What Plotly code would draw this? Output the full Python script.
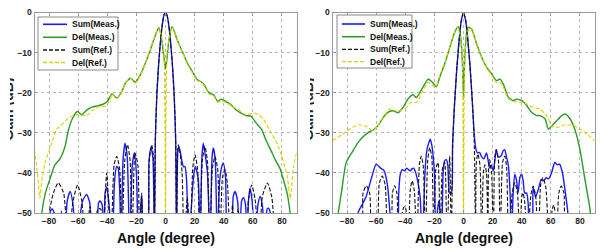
import plotly.graph_objects as go

# ---------------- data ----------------
# Left panel
left_sum_meas_angle = [-90, -81, -79.5, -78, -76.5, -74, -71.5, -69.5, -67.5, -65.5, -63.5, -61.5, -57, -54.2, -52, -50.5,
                       -48, -46, -45, -43.5, -42, -41.5, -40.4, -39, -36.5, -35, -33.5, -32.5, -31.5, -30.5,
                       -29.2, -27.8, -26.3, -24.6, -22.8, -21.4, -20, -18.5, -16.4, -14.5, -12.6, -11.3, -10, -8.7, -7.6,
                       -7.0, -6.0, -5.0, -4.0, -3.0, -2.0, -1.0, 0, 1.0, 2.0, 3.0, 4.0, 5.0, 6.0, 7.0,
                       7.6, 8.5, 9.3, 10.3, 11.5, 12.5, 13.4, 14.5, 16, 17.5, 19, 20.4, 21.4, 22.6, 23.8,
                       25, 26, 27.3, 28.8, 30.7, 32, 32.9, 34.2, 35.6, 37.2, 38.6, 39.7, 41.2, 43, 45, 46.5, 47.8, 49.5, 51,
                       52.3, 53.6, 55, 56, 57, 58.1, 59.5, 61.5, 63.5, 65, 66.5, 68.5, 69.8, 70.7, 72, 73, 90]
left_sum_meas_db = [-60, -58, -50, -49, -50, -58, -49.5, -58, -47, -44.6, -48, -58, -47, -45.4, -47.5, -58,
                    -58, -47.5, -47, -48, -58, -45, -43.5, -47, -58, -42, -38.4, -38.8, -44, -58,
                    -37, -32.6, -36, -58, -38, -35, -40, -58, -45, -58, -58, -37, -33.7, -36, -58,
                    -32, -21, -14.5, -9.5, -5.5, -2.5, -0.6, 0, -0.6, -2.5, -5.5, -9.5, -14.5, -21, -32,
                    -58, -34.5, -33.5, -35, -37.5, -38.5, -38.4, -42, -58, -50, -42, -38.4, -39.5, -42, -58,
                    -36, -32.6, -35.5, -40, -58, -36, -33.8, -37, -58, -42, -38.5, -37.5, -41, -58, -58, -46, -44.6, -47, -58,
                    -47, -46.2, -48, -58, -47, -43.8, -47, -58, -48, -45.9, -48, -58, -49, -48.8, -50, -58, -60]

left_del_meas_angle = [-87, -85, -82.5, -79.4, -76, -72.5, -69, -66.8, -64, -60.5, -57.5, -54, -50.5, -47, -43.7,
                       -40, -36.8, -33.4, -30, -27.6, -24, -20.7, -17.2, -13.8, -10.4, -6.9, -4.6, -2.5, -1, 0,
                       1, 2.5, 4.6, 8, 11.5, 15, 18.4, 21.9, 24.2, 26.5, 30, 33, 35.9, 38.2, 41.6, 45, 48.5,
                       51.9, 55.4, 58.8, 62.3, 66.1, 69.2, 72.6, 75.3, 78.5, 81, 83.5, 85.6, 88]
left_del_meas_db = [-60, -50, -45, -41.5, -38, -36.5, -33.4, -29.5, -26.5, -24.7, -25.5, -24.3, -23.6, -23.3, -23,
                    -22.2, -20.3, -21.3, -19.7, -17.6, -16.4, -17.4, -15.5, -12.6, -9.3, -5.6, -3.7, -7, -11.5, -14,
                    -11.5, -6.5, -3.5, -6.8, -9.7, -12.6, -14.7, -16.8, -17.2, -18, -20.1, -20.5, -22.2, -21.6, -22.2, -23, -24.3,
                    -25.1, -25.7, -25.9, -27.6, -29.2, -32, -34.5, -36.7, -38.8, -41.7, -45, -50, -60]

left_sum_ref_angle = [-90, -83, -80, -77, -73.7, -70, -67, -63.5, -60.4, -57.5, -55, -51.9, -49.5, -46.5, -44.5, -43,
                      -40.4, -37.5, -35.3, -33.5, -31.5, -30, -28, -26.1, -24.3, -23, -21, -19, -17.8,
                      -16.4, -14.5, -12.6, -11.2, -9.5, -8.3, -7.6,
                      -7.0, -6.0, -5.0, -4.0, -3.0, -2.0, -1.0, 0, 1.0, 2.0, 3.0, 4.0, 5.0, 6.0, 7.0,
                      7.6, 8.2, 8.8, 10, 11.4, 12.8, 15, 17, 18.8, 20.3, 22, 23.6, 25.3, 27.1, 28.8, 30.4,
                      32.2, 34, 35.8, 37.4, 39.2, 40.9, 42.6, 44.5, 46, 47.5, 50, 52, 55, 57, 59.2, 61.5, 64.5,
                      66.5, 70, 73, 76, 78.5, 90]
left_sum_ref_db = [-60, -58, -50, -45, -42.5, -45, -58, -47, -43, -47, -58, -48.4, -58, -49, -49, -58,
                   -40, -58, -38, -35.9, -39, -58, -37, -33, -37, -58, -35, -38, -58,
                   -45.9, -58, -58, -37, -33, -36, -58,
                   -32, -21, -14.5, -9.5, -5.5, -2.5, -0.6, 0, -0.6, -2.5, -5.5, -9.5, -14.5, -21, -32,
                   -58, -36, -33, -35, -40, -58, -46, -58, -38.5, -35.5, -39, -58, -37, -33.4, -37, -58,
                   -39, -35.9, -39, -58, -41, -39.2, -43, -58, -48, -58, -49, -58, -58, -46.5, -43, -46.5, -58,
                   -46, -42.5, -46, -58, -60]

left_del_ref_angle = [-90, -88, -86.3, -85, -82.8, -78.2, -75, -70, -67.9, -62, -58.7, -54, -49.7, -45, -41.5, -38,
                      -36.8, -33.4, -30, -27.6, -24, -20.7, -17.2, -13.8, -10.4, -6.9, -4.6, -2.5, -1.1, -0.4, 0,
                      0.4, 1.1, 2.5, 4.6, 8, 11.5, 15, 18.4, 21.9, 24.2, 26.5, 30, 33, 35.9, 38.2, 42.5, 46,
                      50.6, 55, 61, 64, 67.5, 72, 76.6, 80, 83.7, 85.7, 88, 90]
left_del_ref_db = [-34.2, -40, -46.3, -42, -37.5, -32.6, -29.2, -27.5, -26.7, -25.5, -25.5, -25.7, -24.3, -23.4, -23.4, -21.8,
                   -20.4, -21.5, -19.8, -17.6, -16.5, -17.6, -15.6, -12.6, -9.2, -5.4, -3.6, -6.5, -10, -25, -60,
                   -25, -10, -6.5, -3.5, -6.8, -9.8, -12.8, -15, -17, -17.2, -18.3, -20.3, -20.8, -22.4, -22, -22.6, -23.4,
                   -24.3, -25.5, -25.1, -25.5, -26.7, -29.7, -32.6, -35.9, -40.9, -46.3, -38.4, -35]

# Right panel
right_sum_meas_angle = [-90, -74, -72.5, -69, -66.8, -63, -60, -57, -54.5, -53, -52, -50.5, -49, -46,
                        -44.5, -43.5, -42, -40.5, -39, -37.8, -36.6, -35.4, -34.2, -32.8, -31.5, -29.8, -28.2,
                        -26.5, -25, -22.8, -21.6, -20.8, -20, -19, -18, -17, -16, -15, -14, -13,
                        -11.8, -10.8, -9.6,
                        -8.3, -7.5, -6.5, -5.5, -4.5, -3.5, -2.5, -1.5, 0, 1.5, 2.5, 3.5, 4.5, 5.5, 6.5,
                        7.5, 8.5, 9.5, 11, 12.5, 14, 15.8, 17, 18, 19, 20.4, 21.5, 22.5,
                        23.8, 25, 26.2, 27.2, 28.3, 29.5, 30.8, 32, 33, 34, 35.2, 36.5, 37.5, 38.8, 40, 41, 42,
                        43.4, 44.5, 45.5, 47, 47.8, 49.5, 51.5, 53.4, 55, 56.8, 58.5, 60.5, 62.7, 64.5, 66,
                        68, 70, 71.7, 73, 90]
right_sum_meas_db = [-60, -58, -50, -47.5, -45.8, -41, -37.8, -38.8, -39.5, -41.5, -43.8, -50, -58, -58,
                     -45, -40.5, -39.2, -39.5, -38.8, -39.2, -39.5, -39, -38.8, -40, -42, -46, -58,
                     -40, -34, -31.6, -33.5, -36, -40, -58, -50, -47, -50, -58, -40, -37,
                     -36.7, -38, -45,
                     -45, -33, -25, -19, -13.5, -9, -5, -2, 0, -2, -5, -9, -13.5, -19, -25,
                     -31, -34, -35, -34.9, -36, -36.5, -35, -37, -38.8, -38, -39.5, -37, -34.2,
                     -36, -36, -35.5, -34.5, -34.2, -36, -38, -45, -58, -46, -40.3, -42, -45, -41, -40.3, -42, -45,
                     -45, -48, -58, -58, -43.6, -46, -44, -41.6, -42, -41.2, -41.5, -40, -37.4, -38, -37.8,
                     -40, -45, -50, -58, -60]

right_del_meas_angle = [-89, -86, -83.5, -80.7, -76, -72.6, -69, -65.7, -62, -58.8, -55, -52, -48.5, -45,
                        -41.6, -38, -34.7, -32.4, -30, -27.8, -24.3, -21.4, -18.6, -16.3, -12.9, -9.4, -6,
                        -3.7, -2, -0.8, 0, 0.8, 2, 3.2, 5.5, 9, 12.4, 15.8, 19.3, 22.7, 25, 27.3, 30.8, 34.2,
                        36.5, 40, 43.4, 46.8, 50.3, 52.6, 56, 58.3, 60.6, 64, 67.5, 69.8, 73.2, 76.7, 80.1,
                        83.6, 87, 88.5]
right_del_meas_db = [-60, -50, -44, -37.5, -34.5, -32.5, -31, -30, -29.3, -28.2, -26.1, -24.9, -24.5, -25,
                     -23.7, -21.5, -20.5, -21.2, -20, -18.6, -16.6, -17.4, -18.5, -16.1, -12.8, -8.7, -4.9,
                     -3.5, -6, -12, -21, -12, -5.5, -3.7, -4.1, -7.8, -11.1, -13.6, -15.3, -17, -16.6, -17.8, -21.1, -22,
                     -21.6, -22, -23.2, -24.9, -25.7, -25.7, -26.5, -29.1, -28.3, -27, -25.7, -25.3, -26.5, -29.4, -34.4,
                     -42, -49.4, -60]

right_sum_ref_angle = [-90, -71, -69, -66.8, -64.5, -62.5, -60, -57.8, -55.8, -53.8, -51.5, -50, -48.8, -47.3, -45.8,
                       -44.5, -41.5, -40.4, -39.3, -38, -36.5, -35.2, -33.8, -32, -30.3, -29, -27.6, -26.2,
                       -24.6, -23.2, -21.8, -20.3, -19, -17.5, -16, -14.5, -12.9, -11.3, -9.5,
                       -8.3, -7.5, -6.5, -5.5, -4.5, -3.5, -2.5, -1.5, 0, 1.5, 2.5, 3.5, 4.5, 5.5, 6.5, 7.5,
                       8.3, 8.9, 9.9, 11.3, 12.5, 13.7, 14.7, 15.8, 16.8, 17.2, 18, 19.3, 20.5, 21.5, 22.5,
                       24, 25.3, 26.8, 28.3, 29.6, 31, 33.5, 35.2, 37, 39, 40, 40.9, 42, 44, 46.3, 47.8,
                       49.5, 51.5, 53, 54.6, 56.5, 59, 61, 62, 63, 64, 65.5, 67.2, 69, 71.5, 90]
right_sum_ref_db = [-60, -58, -45, -43.2, -45, -58, -58, -42.5, -40.8, -43, -58, -58, -45, -43.2, -45,
                    -58, -49, -48.4, -49.5, -58, -44, -42, -44.5, -58, -38, -35.8, -38.5, -58,
                    -37, -33.7, -36, -58, -39, -37.4, -58, -39, -37.4, -58, -35.8,
                    -58, -34, -25, -19, -13.5, -9, -5, -2, 0, -2, -5, -9, -13.5, -19, -25, -34,
                    -58, -37, -35.3, -38, -58, -39.5, -38, -40, -58, -39, -36.7, -40, -58, -36, -34.2,
                    -37, -58, -37.5, -35.8, -38.5, -58, -45, -42.4, -45, -58, -46, -45, -47, -58, -45.5, -43.3,
                    -45.5, -58, -43, -41.2, -43.5, -58, -49, -48, -50, -58, -45, -43.3, -45, -58, -60]

right_del_ref_angle = [-90, -82.9, -76, -71.4, -66.8, -62.2, -58.8, -55.3, -50.7, -47.3, -43.9, -39.3, -35.8,
                       -32.4, -27.8, -24.3, -20.9, -18.6, -16.3, -12.9, -9.4, -6, -4.2, -2.3, -1, -0.4, 0,
                       0.4, 1, 2.3, 4.2, 6, 9, 12.4, 15.8, 19.3, 22.7, 25, 27.3, 30.8, 34.2, 38.8, 43.4, 48,
                       52.6, 57.2, 60.6, 65.2, 69.8, 75.5, 80.1, 84.7, 90]
right_del_ref_db = [-32, -30.3, -28.6, -28, -28.4, -29.5, -28.2, -26.1, -24.1, -24.5, -24.5, -23.7, -22.4,
                    -22.4, -19.5, -17.4, -18.3, -18.3, -15.7, -12.5, -8.5, -4.8, -3.5, -6, -10, -25, -60,
                    -25, -10, -6, -3.5, -4.5, -7.6, -11, -13.8, -15.6, -17.5, -17.4, -18.5, -21.5, -22.2, -22.4, -22.8, -23.7,
                    -24.1, -25.7, -28.3, -28.6, -28, -28.2, -29, -30.3, -32]

legend_names = ["Sum(Meas.)", "Del(Meas.)", "Sum(Ref.)", "Del(Ref.)"]
x_ticks = [-80, -60, -40, -20, 0, 20, 40, 60, 80]
y_ticks = [0, -10, -20, -30, -40, -50]
x_title = "Angle (degree)"
y_title = "Gain (dB)"

# ---------------- styles / layout ----------------
W, H = 602, 250
FONT = "Arial, 'Liberation Sans', sans-serif"
styles = [
    dict(color="#1a1aff", width=1.4, dash="solid"),
    dict(color="#2a9a2a", width=1.4, dash="solid"),
    dict(color="#111111", width=1.1, dash="4px,2px"),
    dict(color="#d8d200", width=1.1, dash="4px,2px"),
]


def px(x):
    return x / W


def py(y):
    return (H - y) / H


fig = go.Figure()

panels = [
    ("x", "y", [
        (left_sum_meas_angle, left_sum_meas_db),
        (left_del_meas_angle, left_del_meas_db),
        (left_sum_ref_angle, left_sum_ref_db),
        (left_del_ref_angle, left_del_ref_db)]),
    ("x2", "y2", [
        (right_sum_meas_angle, right_sum_meas_db),
        (right_del_meas_angle, right_del_meas_db),
        (right_sum_ref_angle, right_sum_ref_db),
        (right_del_ref_angle, right_del_ref_db)]),
]

for xa, ya, series in panels:
    for name, st, (ang, val) in zip(legend_names, styles, series):
        fig.add_trace(go.Scatter(
            x=ang, y=val, mode="lines", name=name, xaxis=xa, yaxis=ya, showlegend=False,
            hoverinfo="skip",
            line=dict(color=st["color"], width=st["width"], dash=st["dash"], shape="spline", smoothing=0.6),
        ))

axis_common = dict(
    showgrid=True, gridcolor="#b8b8b8", griddash="dot", gridwidth=1,
    showline=True, linecolor="#9a9a9a", linewidth=1, mirror="ticks",
    ticks="inside", ticklen=3, tickcolor="#9a9a9a",
    zeroline=False, automargin=False, fixedrange=True,
    tickfont=dict(family=FONT, size=8.5, color="#222222", weight="bold"),
)

L0, L1 = 34.5, 296.5
R0, R1 = 332.5, 594.5
T, B = 12.5, 213

# clipped y-axis title slivers (the reference image crops the title almost entirely)
sl_axes = {}
for i, (xa, ya, x0) in enumerate([("x3", "y3", 10), ("x4", "y4", 310)]):
    fig.add_trace(go.Bar(
        x=[x0 - 2], y=[1], width=[12], xaxis=xa, yaxis=ya, showlegend=False, hoverinfo="skip",
        marker=dict(color="rgba(0,0,0,0)", line=dict(width=0)),
        text=[y_title], textposition="inside", textangle=-90, constraintext="none",
        insidetextanchor="middle", cliponaxis=True,
        textfont=dict(family=FONT, size=14, color="#222222", weight="bold"),
    ))
    n = xa[1:]
    sl_axes["xaxis" + n] = dict(domain=[px(x0), px(x0 + 4)], range=[x0, x0 + 4], visible=False,
                                anchor=ya, fixedrange=True, automargin=False)
    sl_axes["yaxis" + n] = dict(domain=[py(160), py(58)], range=[0, 1], visible=False,
                                anchor=xa, fixedrange=True, automargin=False)

fig.update_layout(
    width=W, height=H,
    margin=dict(l=0, r=0, t=0, b=0, autoexpand=False),
    paper_bgcolor="white", plot_bgcolor="white",
    showlegend=False,
    xaxis=dict(domain=[px(L0), px(L1)], range=[-90, 90], tickvals=x_ticks, anchor="y", **axis_common),
    yaxis=dict(domain=[py(B), py(T)], range=[-50, 0], tickvals=y_ticks, anchor="x", **axis_common),
    xaxis2=dict(domain=[px(R0), px(R1)], range=[-90, 90], tickvals=x_ticks, anchor="y2", **axis_common),
    yaxis2=dict(domain=[py(B), py(T)], range=[-50, 0], tickvals=y_ticks, anchor="x2", **axis_common),
    **sl_axes,
)

# x-axis titles
for cx in [(L0 + L1) / 2, (R0 + R1) / 2]:
    fig.add_annotation(text=x_title, xref="paper", yref="paper", x=px(cx), y=py(238),
                       xanchor="center", yanchor="middle", showarrow=False,
                       font=dict(family=FONT, size=14, color="#111111", weight="bold"))

# custom legends (box, line samples, labels)
legend_boxes = [
    dict(x0=38, x1=118, y0=17, y1=70, line_x=(43, 67), text_x=70, rows=[24.3, 37.3, 50, 62.5]),
    dict(x0=337, x1=412, y0=15, y1=68, line_x=(342, 365), text_x=368, rows=[24, 36.7, 49.3, 61.7]),
]
for lb in legend_boxes:
    fig.add_shape(type="rect", xref="paper", yref="paper",
                  x0=px(lb["x0"]), x1=px(lb["x1"]), y0=py(lb["y1"]), y1=py(lb["y0"]),
                  fillcolor="white", line=dict(color="#8a8a8a", width=1), layer="above")
    for name, st, ry in zip(legend_names, styles, lb["rows"]):
        fig.add_shape(type="line", xref="paper", yref="paper",
                      x0=px(lb["line_x"][0]), x1=px(lb["line_x"][1]), y0=py(ry), y1=py(ry),
                      line=dict(color=st["color"], width=st["width"] + 0.2, dash=st["dash"]), layer="above")
        fig.add_annotation(text=name, xref="paper", yref="paper", x=px(lb["text_x"]), y=py(ry),
                           xanchor="left", yanchor="middle", showarrow=False,
                           font=dict(family=FONT, size=8.5, color="#111111", weight="bold"))

fig.write_html("out.html", config={"displayModeBar": False, "staticPlot": True},
               post_script="document.body.style.margin='0px';")
